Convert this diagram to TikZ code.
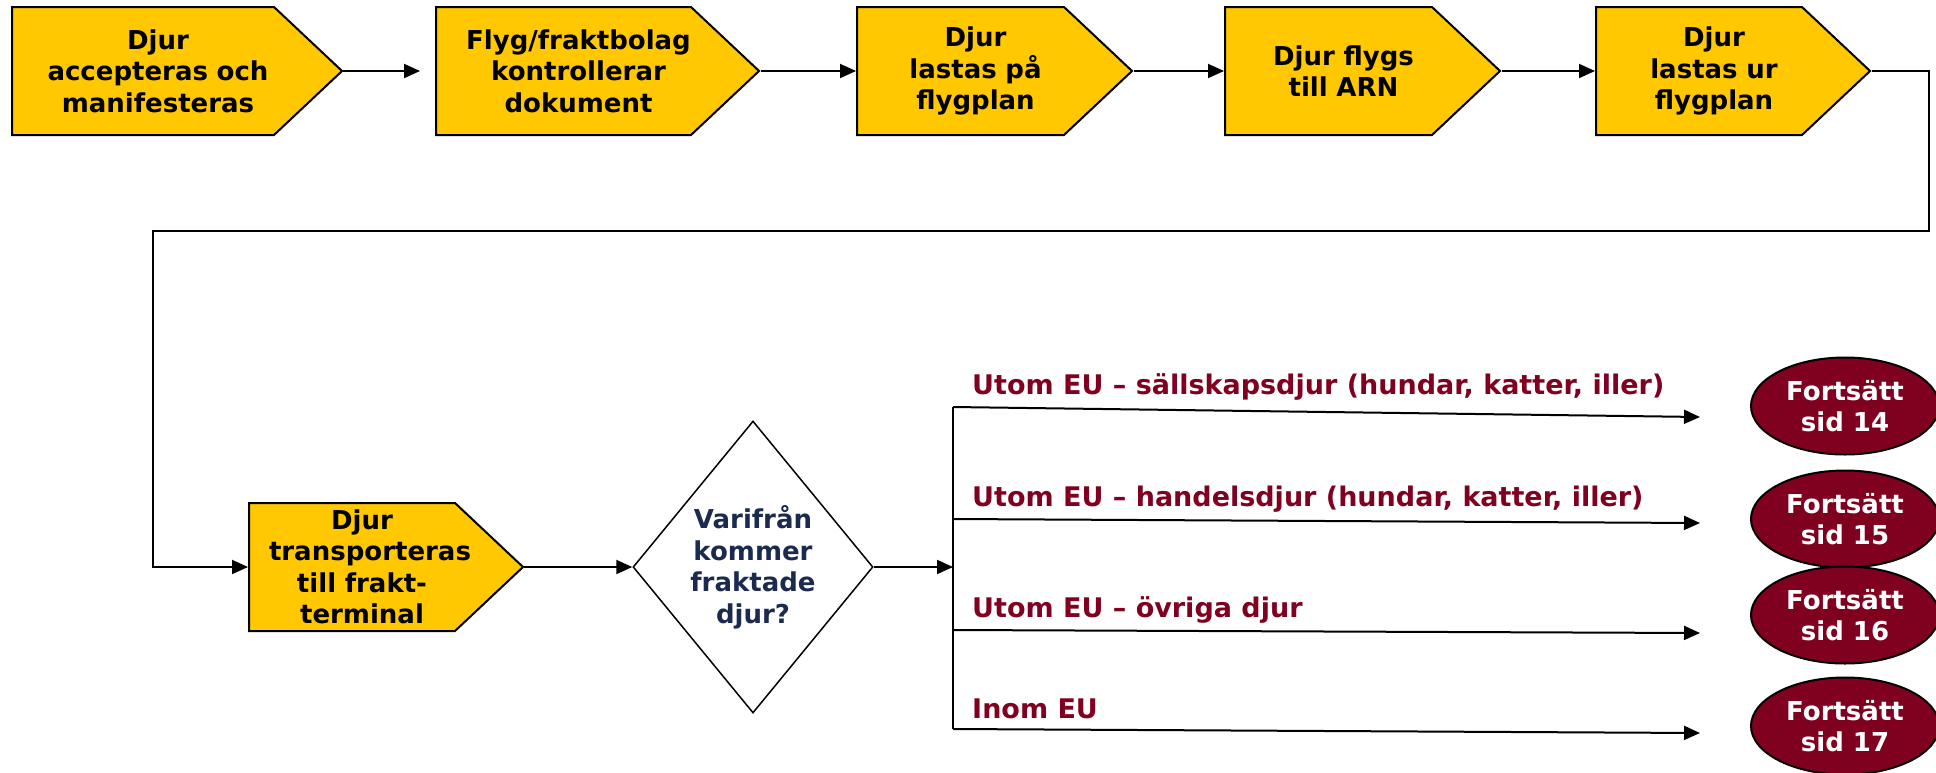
\documentclass[tikz,border=0pt]{standalone}
\usepackage{fontspec}
\setmainfont{DejaVu Sans}
\usetikzlibrary{arrows.meta,positioning,calc,shapes.geometric,shapes.symbols}

\definecolor{stepyellow}{HTML}{FFC800}
\definecolor{wine}{HTML}{800020}
\definecolor{navy}{HTML}{1B2A4E}

\begin{document}
\begin{tikzpicture}[
    x=1pt,y=-1pt,
    font=\fontsize{26}{31.5}\selectfont\bfseries,
    stepbox/.style={signal,signal to=east,signal pointer angle=86.5,draw,line width=2pt,fill=stepyellow,inner xsep=0pt,inner ysep=0pt,minimum height=128pt,align=center,execute at begin node={\advance\leftskip by #1}},
    stepbox/.default=30pt,
    ask/.style={diamond,draw,line width=1.5pt,aspect=0.82,inner sep=0pt,minimum width=240pt,minimum height=292pt,align=center,text=navy},
    goon/.style={ellipse,draw,line width=2pt,fill=wine,text=white,inner sep=0pt,minimum width=188pt,minimum height=97pt,align=center},
    branch/.style={text=wine,anchor=west,inner sep=0pt,font=\fontsize{27}{32}\selectfont\bfseries},
    flow/.style={draw,line width=2pt,->},
    >={Triangle[length=16pt,width=14pt]}]
    \useasboundingbox (0,0) rectangle (1936,772);
    % upper row
    \node[stepbox,text width=262pt] (accept) at (143,71) {Djur\\accepteras och\\manifesteras};
    \node[stepbox,text width=255pt] (check) at (563.5,71) {Flyg/fraktbolag\\kontrollerar\\dokument};
    \node[stepbox,text width=207pt] (load) at (960.5,71) {Djur\\lastas på\\flygplan};
    \node[stepbox,text width=207pt] (fly) at (1328.5,71) {Djur flygs\\till ARN};
    \node[stepbox,text width=206pt] (unload) at (1699,71) {Djur\\lastas ur\\flygplan};
    \draw[flow,shorten >=15pt] (accept.east) -- (check.west);
    \draw[flow] (check.east) -- (load.west);
    \draw[flow] (load.east) -- (fly.west);
    \draw[flow] (fly.east) -- (unload.west);
    % lower row
    \node[stepbox=20pt,text width=206pt] (truck) at (352,567) {Djur\\transporteras\\till frakt-\\terminal};
    \coordinate (loopR) at (1929,231);
    \coordinate (loopL) at (153,231);
    \draw[flow] (unload.east) -| (loopR) -- (loopL) |- (truck.west);
    \node[ask] (origin) at (753,567) {Varifrån\\kommer\\fraktade\\djur?};
    \draw[flow] (truck.east) -- (origin.west);
    \coordinate (split) at (953,567);
    \coordinate (splitT) at (953,407);
    \coordinate (splitB) at (953,729);
    \draw[flow] (origin.east) -- (split);
    \draw[line width=2pt] (splitT) -- (splitB);
    \foreach \n/\ys/\ye/\yc/\pg/\txt in {
      1/407/417/406/14/{Utom EU – sällskapsdjur (hundar, katter, iller)},
      2/519/523/519/15/{Utom EU – handelsdjur (hundar, katter, iller)},
      3/630/633/615/16/{Utom EU – övriga djur},
      4/729/733/726/17/{Inom EU}}{
      \node[goon] (page\n) at (1845,\yc) {Fortsätt\\sid \pg};
      \coordinate (from\n) at (953,\ys);
      \coordinate (to\n) at (1700,\ye);
      \draw[flow] (from\n) -- (to\n);
      \node[branch] (lbl\n) at (972,\ys-20) {\txt};
    }
\end{tikzpicture}
\end{document}
